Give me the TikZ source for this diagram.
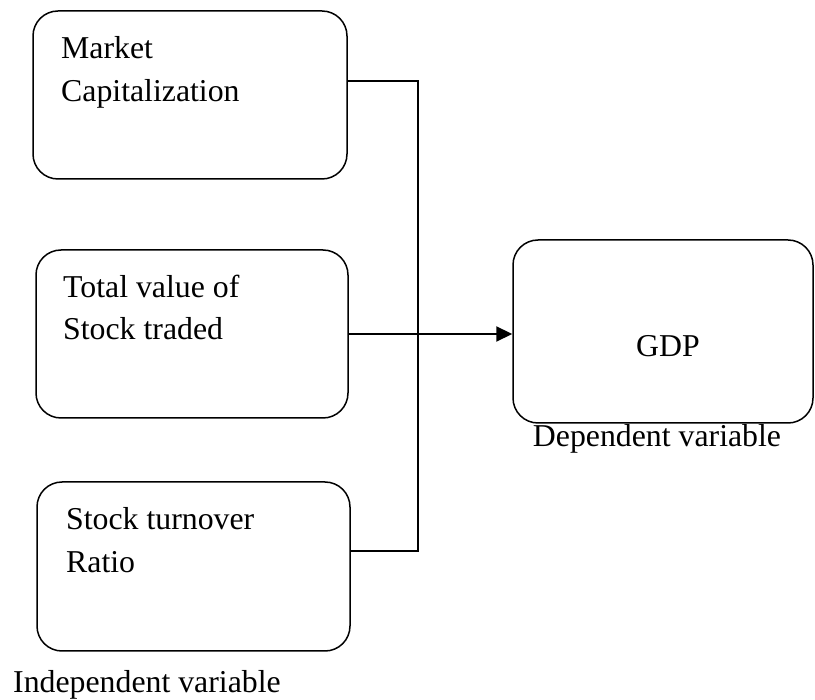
\documentclass[tikz,border=0pt]{standalone}
\usepackage{fontspec}
\setmainfont{Liberation Serif}
\usepackage{tikz}
\usetikzlibrary{positioning,arrows.meta}

\begin{document}
\begin{tikzpicture}[x=1pt,y=-1pt]
\tikzstyle{every node}+=[inner sep=0pt]
\tikzstyle{varbox}=[draw=black,line width=1.5pt,rounded corners=25pt]
\tikzstyle{boxtext}=[anchor=base west,font=\fontsize{31.8}{43}\selectfont]
\useasboundingbox (0,0) rectangle (815,700);
% left boxes
\node [varbox,minimum width=314pt,minimum height=168pt] (cap) at (190,95) {};
\node [boxtext] (capA) at (61,59) {Market};
\node [boxtext] (capB) at (61,102) {Capitalization};
\node [varbox,minimum width=312pt,minimum height=168pt] (val) at (192,334) {};
\node [boxtext] (valA) at (63,298) {Total value of};
\node [boxtext] (valB) at (63,340) {Stock traded};
\node [varbox,minimum width=313pt,minimum height=169pt] (turn) at (193.5,566.5) {};
\node [boxtext] (turnA) at (66,530) {Stock turnover};
\node [boxtext] (turnB) at (66,573) {Ratio};
\node [boxtext] (indep) at (13,693) {Independent variable};
% right box
\node [varbox,minimum width=300pt,minimum height=183pt] (gdp) at (663,331.5) {};
\node [boxtext,anchor=base] (gdpT) at (668,357) {GDP};
\node [boxtext,anchor=base] (dep) at (657,447) {Dependent variable};
% connectors
\coordinate (jtop) at (418,81);
\coordinate (jbot) at (418,551);
\draw [line width=2.2pt] (cap.east |- jtop) -- (jtop) -- (jbot) -- (turn.east |- jbot);
\draw [line width=2.2pt,-{Triangle[length=16pt,width=15pt]}] (val.east) -- (val.east -| gdp.west);
\end{tikzpicture}
\end{document}
